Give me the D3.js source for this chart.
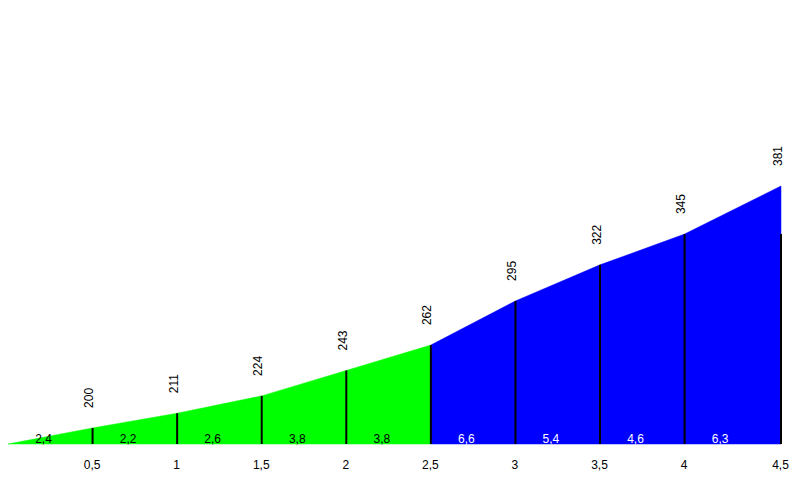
<!DOCTYPE html>
<html><head><meta charset="utf-8">
<script src="https://cdn.jsdelivr.net/npm/d3@7"></script>
<style>body{margin:0;background:#fff}svg{display:block}text{font-family:"Liberation Sans",Arial,sans-serif}</style>
</head><body><svg id="c" width="800" height="480"></svg>
<script>
const distances = [0, 0.5, 1, 1.5, 2, 2.5, 3, 3.5, 4, 4.57];
const distanceLabels = ["", "0,5", "1", "1,5", "2", "2,5", "3", "3,5", "4", "4,5"];
const altitudes = [188, 200, 211, 224, 243, 262, 295, 322, 345, 381];
const gradients = ["2,4", "2,2", "2,6", "3,8", "3,8", "6,6", "5,4", "4,6", "6,3"];
const segmentColors = ["#00ff00", "#00ff00", "#00ff00", "#00ff00", "#00ff00", "#0000ff", "#0000ff", "#0000ff", "#0000ff"];
const gradientTextColors = ["#000", "#000", "#000", "#000", "#000", "#fff", "#fff", "#fff", "#fff"];

const svg = d3.select("#c");
const x = d3.scaleLinear().domain([0, 4.57]).range([8, 781]);
const y = d3.scaleLinear().domain([188, 381]).range([444, 186]);
const base = 444;

const pts = distances.map((d, i) => ({d, a: altitudes[i]}));

// segments
for (let i = 0; i < pts.length - 1; i++) {
  const seg = [pts[i], pts[i + 1]];
  const area = d3.area().x(p => x(p.d)).y0(base).y1(p => y(p.a));
  svg.append("path").attr("d", area(seg)).attr("fill", segmentColors[i]).attr("stroke", segmentColors[i]).attr("stroke-width", 0.5);
}

// vertical lines
pts.forEach((p, i) => {
  if (i === 0) return;
  const top = i === pts.length - 1 ? y(altitudes[i - 1]) : y(p.a);
  svg.append("line").attr("x1", x(p.d)).attr("x2", x(p.d)).attr("y1", base).attr("y2", top)
    .attr("stroke", "#000").attr("stroke-width", 2);
});

// gradient labels
gradients.forEach((g, i) => {
  svg.append("text").attr("x", x(distances[i] + 0.21)).attr("y", 443)
    .attr("text-anchor", "middle").attr("font-size", 12).attr("fill", gradientTextColors[i]).text(g);
});

// altitude labels
pts.forEach((p, i) => {
  if (i === 0) return;
  const tx = x(p.d) + 0.5, ty = y(p.a) - 20;
  svg.append("text").attr("transform", `translate(${tx},${ty}) rotate(-90)`)
    .attr("font-size", 12).attr("fill", "#000").text(p.a);
});

// distance labels
const xAxis = d3.axisBottom(x).tickValues(distances.slice(1)).tickSize(0).tickFormat((d, i) => distanceLabels[i + 1]);
const g = svg.append("g").attr("transform", `translate(-1,${base + 13})`).call(xAxis);
g.select(".domain").remove();
g.selectAll("text").attr("font-size", 12).attr("fill", "#000").attr("font-family", "Liberation Sans, Arial, sans-serif");
</script></body></html>
